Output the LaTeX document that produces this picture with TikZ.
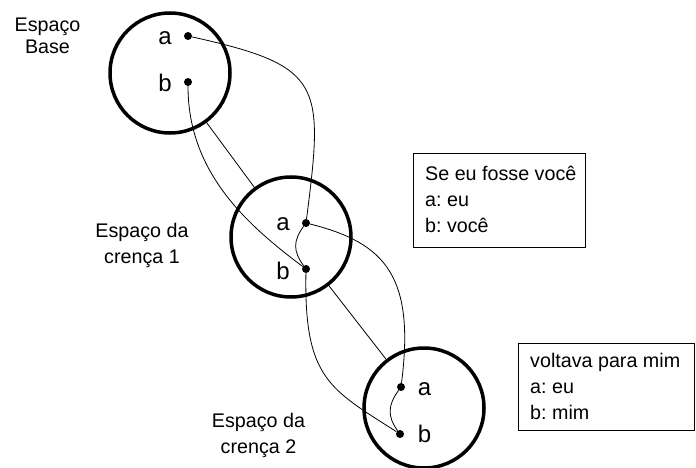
\documentclass[tikz,border=0pt]{standalone}
\usepackage{fontspec}
\setmainfont{Liberation Sans}
\usetikzlibrary{positioning}
\tikzset{%
	espaco/.style = {draw, circle, line width=3.5pt, minimum size=120pt, inner sep=0pt, outer sep=0pt},
	ponto/.style  = {circle, fill, inner sep=0pt, minimum size=8pt},
	letra/.style  = {font=\fontsize{24}{28}\selectfont},
	rotulo/.style = {align=center, font=\fontsize{19.7}{26}\selectfont},
	caixa/.style  = {draw, line width=0.9pt, anchor=north west, inner sep=0pt},
	texto/.style  = {align=left, inner sep=0pt, font=\fontsize{19.7}{26}\selectfont\frenchspacing},
	liga/.style   = {line width=0.8pt},
}
\begin{document}
\begin{tikzpicture}[x=1pt,y=-1pt]
	\useasboundingbox (0,0) rectangle (696,468);
	
	% os tres espacos mentais
	\node[espaco] (base) at (170,73) {};
	\node[espaco] (c1) at (291,237) {};
	\node[espaco] (c2) at (424,408) {};
	
	\node[rotulo] at (47.5,36) {Espaço\\[-4pt]Base};
	\node[rotulo] at (142,245) {Espaço da\\crença 1};
	\node[rotulo] at (258.5,435) {Espaço da\\crença 2};
	
	% elementos a e b
	\node[ponto] (ba) at (188,36) {};
	\node[ponto] (bb) at (188,82) {};
	\node[ponto] (c1a) at (306,223) {};
	\node[ponto] (c1b) at (306,269) {};
	\node[ponto] (c2a) at (401,387) {};
	\node[ponto] (c2b) at (400,434) {};
	
	\node[letra] at (165,38) {a};
	\node[letra] at (165,83) {b};
	\node[letra] at (283,224.5) {a};
	\node[letra] at (283,270.5) {b};
	\node[letra] at (424.5,389.5) {a};
	\node[letra] at (424.5,433.5) {b};
	
	% ligacoes entre espacos
	\draw[liga] (base) -- (c1);
	\draw[liga] (c1) -- (c2);
	
	% ligacoes entre elementos
	\draw[liga] (ba) .. controls +(135,30) and +(18,-140) .. (c1a);
	\draw[liga] (bb) .. controls +(0,90) and +(-60,-45) .. (c1b);
	\draw[liga] (c1a) .. controls +(-13,18) and +(-13,-18) .. (c1b);
	\draw[liga] (c1a) .. controls +(80,20) and +(14,-110) .. (c2a);
	\draw[liga] (c1b) .. controls +(-2,110) and +(-70,-45) .. (c2b);
	\draw[liga] (c2a) .. controls +(-13,18) and +(-13,-18) .. (c2b);
	
	% caixas de texto
	\node[caixa, minimum width=172pt, minimum height=94pt] (cx1) at (413,153) {};
	\node[texto, anchor=west, right=12pt of cx1.west, yshift=1.5pt] (tx1) {Se eu fosse você\\a: eu\\b: você};
	\node[caixa, minimum width=176pt, minimum height=87pt] (cx2) at (518,343) {};
	\node[texto, anchor=west, right=12pt of cx2.west] (tx2) {voltava para mim\\a: eu\\b: mim};
	
\end{tikzpicture}
\end{document}
